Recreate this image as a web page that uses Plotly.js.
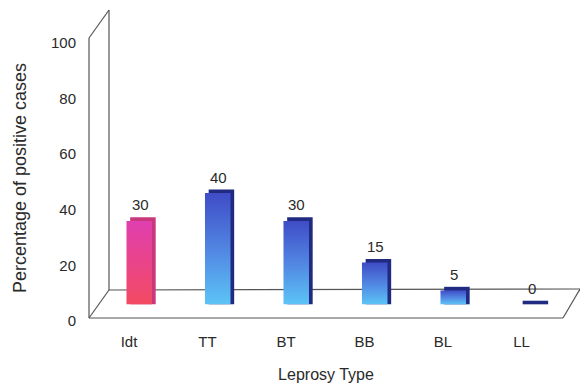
<!DOCTYPE html>
<html>
<head>
<meta charset="utf-8">
<script src="https://cdn.plot.ly/plotly-3.0.1.min.js"></script>
<style>
html,body{margin:0;padding:0;background:#fff;}
#chart{width:580px;height:383px;}
</style>
</head>
<body>
<div id="chart"></div>
<script>
// ---- data ----
var leprosyTypes = ["Idt", "TT", "BT", "BB", "BL", "LL"];
var positivePct = [30, 40, 30, 15, 5, 0];
var yTickVals = [0, 20, 40, 60, 80, 100];
var yTickText = ["0", "20", "40", "60", "80", "100"];

// ---- style ----
var BASE = 6;          // bars sit back on the 3D floor
var DEPTH = 1.3;       // extrusion of the bar top (y units)
var frontColors = leprosyTypes.map(function(c, i){ return i === 0 ? "#ea4590" : "#4f86df"; });
var sideColors = leprosyTypes.map(function(c, i){ return i === 0 ? "#c8387a" : "#1f2a80"; });
var FONT = "Liberation Sans, Arial, sans-serif";
var TXT = "#2a2a2a";

var side = {
  type: "bar", x: leprosyTypes,
  y: positivePct.map(function(v){ return v + DEPTH; }),
  base: BASE, width: 0.325, offset: 0.015,
  marker: {color: sideColors, line: {width: 0}},
  hoverinfo: "skip", showlegend: false
};
var front = {
  type: "bar", x: leprosyTypes, y: positivePct,
  base: BASE, width: 0.325, offset: -0.032,
  marker: {color: frontColors, line: {width: 0}},
  showlegend: false
};

// plot area geometry (pixels)
var L = 89, W = 474, T = 10, BOT = 346, H = BOT - T;
var ZERO_PX = 321;                      // pixel of y = 0
var PXU = 2.78;                         // pixels per y unit
var yMin = -(BOT - ZERO_PX) / PXU;
var yMax = yMin + H / PXU;

// 3D frame (walls / floor) in paper coords of the plot area
function px(x){ return (x - L) / W; }
function py(y){ return (BOT - y) / H; }
function seg(x0, y0, x1, y1){
  return {type: "line", xref: "paper", yref: "paper",
    x0: px(x0), y0: py(y0), x1: px(x1), y1: py(y1),
    line: {color: "#555", width: 1.2}, layer: "below"};
}
var shapes = [
  seg(89, 318, 89, 38),
  seg(89, 38, 109, 10),
  seg(109, 10, 109, 290),
  seg(89, 318, 109, 290),
  seg(109, 290, 580, 289),
  seg(89, 318, 563, 318),
  seg(563, 318, 580, 289)
];

var annotations = leprosyTypes.map(function(c, i){
  return {x: c, y: positivePct[i] + BASE, xref: "x", yref: "y",
    text: String(positivePct[i]), showarrow: false,
    xshift: 11, yshift: 16, yanchor: "middle",
    font: {family: FONT, size: 15, color: TXT}};
});

var layout = {
  width: 580, height: 383,
  margin: {l: L, r: 580 - L - W, t: T, b: 383 - BOT},
  paper_bgcolor: "#fff", plot_bgcolor: "rgba(0,0,0,0)",
  barmode: "overlay",
  xaxis: {
    type: "category", range: [-0.5096, 5.529],
    anchor: "free", position: (BOT - ZERO_PX) / H,
    showgrid: false, zeroline: false, showline: false,
    ticks: "outside", ticklen: 7, tickcolor: "rgba(0,0,0,0)",
    tickfont: {family: FONT, size: 15, color: TXT},
    title: {text: "Leprosy Type", standoff: 20, font: {family: FONT, size: 16, color: TXT}},
    automargin: false, fixedrange: true
  },
  yaxis: {
    range: [yMin, yMax],
    tickvals: yTickVals, ticktext: yTickText,
    showgrid: false, zeroline: false, showline: false,
    ticks: "outside", ticklen: 9, tickcolor: "rgba(0,0,0,0)",
    tickfont: {family: FONT, size: 15, color: TXT},
    title: {text: "Percentage of positive cases", standoff: 19, font: {family: FONT, size: 18, color: TXT}},
    automargin: false, fixedrange: true
  },
  shapes: shapes,
  annotations: annotations,
  font: {family: FONT}
};

Plotly.newPlot("chart", [side, front], layout, {displayModeBar: false, staticPlot: true}).then(function(gd){
  var svg = gd.querySelector(".main-svg");
  var ns = "http://www.w3.org/2000/svg";
  var defs = svg.querySelector("defs") || svg.insertBefore(document.createElementNS(ns, "defs"), svg.firstChild);
  function grad(id, stops){
    var g = document.createElementNS(ns, "linearGradient");
    g.setAttribute("id", id);
    g.setAttribute("x1", "0"); g.setAttribute("y1", "0");
    g.setAttribute("x2", "0"); g.setAttribute("y2", "1");
    stops.forEach(function(s){
      var st = document.createElementNS(ns, "stop");
      st.setAttribute("offset", s[0]);
      st.setAttribute("stop-color", s[1]);
      g.appendChild(st);
    });
    defs.appendChild(g);
  }
  grad("gPink", [["0", "#e03fb0"], ["1", "#f24a62"]]);
  grad("gBlue", [["0", "#3f4cc6"], ["0.5", "#5185e2"], ["1", "#5cc4f6"]]);
  var traces = gd.querySelectorAll(".barlayer .trace");
  if (traces.length > 1) {
    var paths = traces[1].querySelectorAll(".point path");
    paths.forEach(function(p, i){
      p.style.fill = i === 0 ? "url(#gPink)" : "url(#gBlue)";
    });
  }
});
</script>
</body>
</html>
